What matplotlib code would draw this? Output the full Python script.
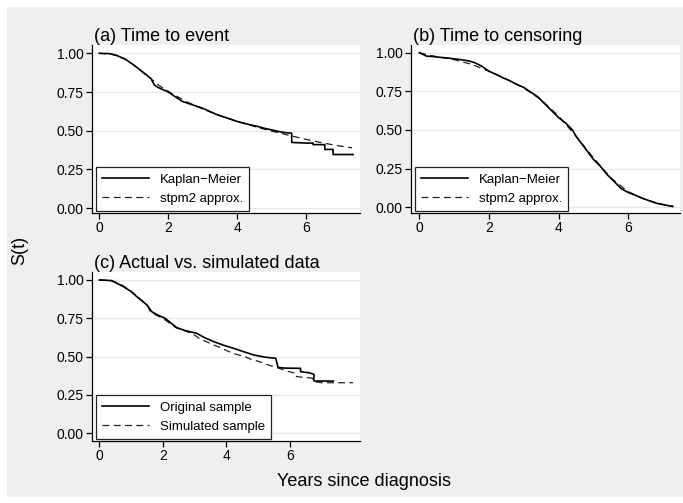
import matplotlib
matplotlib.use("Agg")
import matplotlib.pyplot as plt
from matplotlib.patches import Rectangle

plt.rcParams["font.family"] = ["Liberation Sans", "DejaVu Sans"]

# (a) time to event: Kaplan-Meier and stpm2 approximation
event_km_t = [0, 0.3, 0.5, 0.75, 1.0, 1.2, 1.4, 1.5, 1.6, 1.7, 1.85, 2.0, 2.2, 2.4, 2.6, 2.8,
              3.0, 3.2, 3.4, 3.6, 3.8, 4.0, 4.2, 4.4, 4.6, 4.8, 5.0, 5.2, 5.4, 5.58, 5.58,
              5.8, 6.0, 6.2, 6.2, 6.54, 6.54, 6.78, 6.78, 7.36]
event_km_s = [1.0, 0.998, 0.987, 0.963, 0.925, 0.89, 0.855, 0.837, 0.795, 0.78, 0.765, 0.75,
              0.72, 0.69, 0.675, 0.66, 0.645, 0.625, 0.605, 0.59, 0.575, 0.56, 0.548, 0.537,
              0.527, 0.515, 0.505, 0.495, 0.487, 0.484, 0.424, 0.422, 0.42, 0.42, 0.41,
              0.41, 0.379, 0.379, 0.346, 0.346]
event_fit_t = [0, 0.3, 0.5, 0.75, 1.0, 1.25, 1.5, 1.75, 2.0, 2.5, 3.0, 3.5, 4.0, 4.5, 5.0,
               5.5, 6.0, 6.5, 7.0, 7.33]
event_fit_s = [1.0, 0.997, 0.987, 0.962, 0.925, 0.88, 0.835, 0.79, 0.755, 0.69, 0.64,
               0.597, 0.56, 0.527, 0.497, 0.47, 0.444, 0.42, 0.40, 0.389]

# (b) time to censoring
cens_km_t = [0, 0.1, 0.2, 0.4, 0.6, 0.8, 1.0, 1.2, 1.4, 1.6, 1.8, 2.0, 2.2, 2.4, 2.6, 2.8,
             3.0, 3.2, 3.4, 3.6, 3.8, 4.0, 4.2, 4.4, 4.5, 4.6, 4.7, 4.8, 5.0, 5.2, 5.4,
             5.6, 5.8, 6.0, 6.2, 6.4, 6.6, 6.8, 7.0, 7.28]
cens_km_s = [1.0, 0.99, 0.978, 0.975, 0.97, 0.966, 0.96, 0.955, 0.948, 0.935, 0.912, 0.88,
             0.86, 0.838, 0.818, 0.795, 0.775, 0.745, 0.715, 0.67, 0.625, 0.58, 0.545,
             0.50, 0.46, 0.43, 0.40, 0.37, 0.31, 0.265, 0.21, 0.165, 0.12, 0.095, 0.078,
             0.058, 0.042, 0.026, 0.016, 0.004]
cens_fit_t = [0, 0.25, 0.5, 1.0, 1.5, 2.0, 2.5, 3.0, 3.5, 4.0, 4.5, 5.0, 5.5, 6.0, 6.5,
              7.0, 7.3]
cens_fit_s = [1.0, 0.985, 0.975, 0.955, 0.925, 0.88, 0.83, 0.772, 0.695, 0.59, 0.46, 0.32,
              0.19, 0.10, 0.048, 0.018, 0.006]

# (c) actual vs simulated data
orig_t = [0, 0.39, 0.76, 1.0, 1.18, 1.5, 1.65, 1.85, 2.07, 2.25, 2.44, 2.7, 3.07, 3.3,
          3.6, 3.9, 4.23, 4.5, 4.86, 5.2, 5.55, 5.62, 5.86, 6.33, 6.33, 6.6, 6.75, 6.75,
          7.36]
orig_s = [1.0, 0.996, 0.956, 0.925, 0.891, 0.837, 0.793, 0.77, 0.75, 0.72, 0.689, 0.67,
          0.652, 0.625, 0.598, 0.575, 0.554, 0.535, 0.511, 0.497, 0.489, 0.43, 0.425,
          0.424, 0.402, 0.395, 0.385, 0.341, 0.341]
sim_t = [0, 0.3, 0.5, 0.75, 1.0, 1.2, 1.4, 1.5, 1.6, 1.7, 1.85, 2.0, 2.2, 2.4, 2.6, 2.8, 3.0,
         3.2, 3.4, 3.6, 3.8, 4.0, 4.2, 4.4, 4.6, 4.8, 5.0, 5.2, 5.4, 5.6, 5.9, 6.2, 6.2,
         6.7, 6.75, 7.0, 7.98]
sim_s = [1.0, 0.998, 0.987, 0.963, 0.925, 0.89, 0.855, 0.837, 0.795, 0.78, 0.765, 0.75, 0.72,
         0.69, 0.675, 0.66, 0.64, 0.612, 0.595, 0.576, 0.56, 0.54, 0.522, 0.51, 0.498, 0.48,
         0.47, 0.455, 0.44, 0.428, 0.406, 0.39, 0.37, 0.36, 0.337, 0.33, 0.33]

y_ticks = [0, 0.25, 0.5, 0.75, 1.0]
y_ticklabels = ["0.00", "0.25", "0.50", "0.75", "1.00"]
x_ticks = [0, 2, 4, 6]

W, H = 683, 503
fig = plt.figure(figsize=(W / 100, H / 100), dpi=100, facecolor="white")
fig.patches.append(Rectangle((7 / W, 1 - 497 / H), (W - 7) / W, 490 / H,
                             transform=fig.transFigure, facecolor="#efefef",
                             edgecolor="none", zorder=-10))


def make_axes(left, top, right, bottom):
    return fig.add_axes([left / W, 1 - bottom / H, (right - left) / W, (bottom - top) / H])


def style_axes(ax, xlim, ylim, title):
    ax.set_xlim(*xlim)
    ax.set_ylim(*ylim)
    ax.set_yticks(y_ticks)
    ax.set_yticklabels(y_ticklabels)
    ax.set_xticks(x_ticks)
    for y in y_ticks:
        ax.axhline(y, color="#e8e8e8", lw=1.0, zorder=0)
    for side in ["top", "right"]:
        ax.spines[side].set_visible(False)
    for side in ["left", "bottom"]:
        ax.spines[side].set_color("black")
        ax.spines[side].set_linewidth(0.9)
    ax.tick_params(direction="out", length=4, width=0.9, labelsize=10, pad=2, colors="black")
    ax.set_title(title, loc="left", fontsize=13, pad=3, x=0.008)


def add_legend(ax, handles, labels):
    leg = ax.legend(handles, labels, loc="lower left", bbox_to_anchor=(0.015, 0.012),
                    borderaxespad=0, fontsize=9.5, handlelength=3.6, handletextpad=0.8,
                    labelspacing=0.55, borderpad=0.45, fancybox=False, framealpha=1,
                    edgecolor="#222222")
    leg.get_frame().set_linewidth(0.9)


solid = dict(color="black", lw=1.2, zorder=3)
dashed = dict(color="#222222", lw=0.9, dashes=(5.5, 3.5), zorder=2)

# (a)
ax_a = make_axes(92, 45, 360, 213)
l1, = ax_a.plot(event_km_t, event_km_s, **solid)
l2, = ax_a.plot(event_fit_t, event_fit_s, **dashed)
style_axes(ax_a, (-0.21, 7.56), (-0.032, 1.054), "(a) Time to event")
add_legend(ax_a, [l1, l2], ["Kaplan\u2212Meier", "stpm2 approx."])

# (b)
ax_b = make_axes(411, 45, 680, 213)
l1, = ax_b.plot(cens_km_t, cens_km_s, **solid)
l2, = ax_b.plot(cens_fit_t, cens_fit_s, **dashed)
style_axes(ax_b, (-0.24, 7.49), (-0.038, 1.05), "(b) Time to censoring")
add_legend(ax_b, [l1, l2], ["Kaplan\u2212Meier", "stpm2 approx."])

# (c)
ax_c = make_axes(92, 272, 360, 441)
l1, = ax_c.plot(orig_t, orig_s, **solid)
l2, = ax_c.plot(sim_t, sim_s, **dashed)
style_axes(ax_c, (-0.23, 8.2), (-0.05, 1.052), "(c) Actual vs. simulated data")
add_legend(ax_c, [l1, l2], ["Original sample", "Simulated sample"])

fig.text(364 / W, 1 - 481 / H, "Years since diagnosis", ha="center", va="center", fontsize=13)
fig.text(20 / W, 1 - 250 / H, "S(t)", ha="center", va="center", rotation=90, fontsize=13)

fig.savefig("out.png", dpi=100, facecolor=fig.get_facecolor())
